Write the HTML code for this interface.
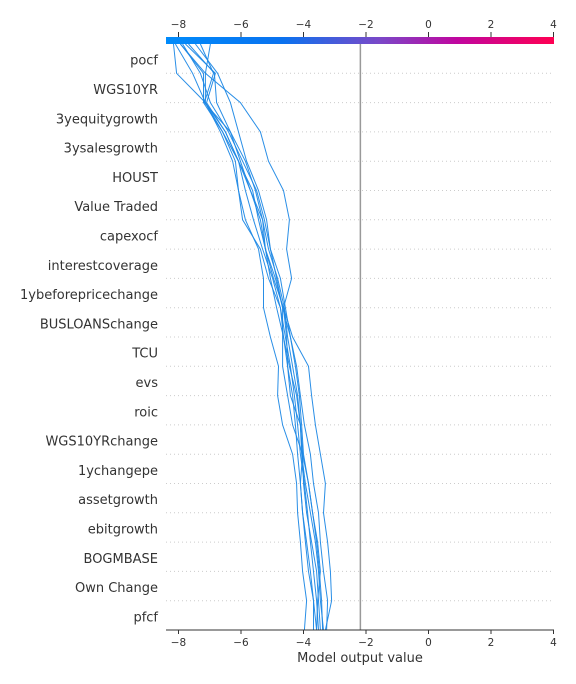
<!DOCTYPE html>
<html><head><meta charset="utf-8"><style>
body{margin:0;background:#fff;}
svg{display:block;font-family:"DejaVu Sans","Liberation Sans",sans-serif;}
</style></head><body>
<svg id="chart" width="576" height="684">
<defs><linearGradient id="cb" x1="0" x2="1" y1="0" y2="0">
<stop offset="0" stop-color="#008bfb"/><stop offset="0.3" stop-color="#0a72ef"/><stop offset="0.55" stop-color="#7a48c8"/><stop offset="0.75" stop-color="#c0069f"/><stop offset="1" stop-color="#ff0052"/></linearGradient></defs>
<g id="grid"></g><g id="lines"></g><g id="axes"></g>
</svg>
<script>
const features=["pocf","WGS10YR","3yequitygrowth","3ysalesgrowth","HOUST","Value Traded","capexocf","interestcoverage","1ybeforepricechange","BUSLOANSchange","TCU","evs","roic","WGS10YRchange","1ychangepe","assetgrowth","ebitgrowth","BOGMBASE","Own Change","pfcf"];
const xTicks=[-8,-6,-4,-2,0,2,4];
const baseValue=-2.18;
const series1=[-7.94,-7.14,-6.02,-5.38,-5.12,-4.64,-4.45,-4.54,-4.38,-4.64,-4.35,-3.84,-3.74,-3.62,-3.46,-3.30,-3.36,-3.23,-3.14,-3.10,-3.30];
const series2=[-8.16,-8.06,-7.14,-6.66,-6.27,-6.08,-5.86,-5.44,-5.28,-5.28,-5.06,-4.80,-4.83,-4.67,-4.35,-4.22,-4.19,-4.10,-4.03,-3.90,-3.97];
const series3=[-7.94,-7.20,-7.20,-6.59,-6.18,-6.08,-5.95,-5.38,-5.12,-4.74,-4.64,-4.51,-4.35,-4.26,-4.19,-4.10,-4.03,-3.90,-3.78,-3.68,-3.58];
const series4=[-7.78,-6.82,-7.10,-6.50,-6.08,-5.86,-5.60,-5.31,-4.99,-4.74,-4.58,-4.42,-4.29,-4.19,-4.10,-3.97,-3.87,-3.78,-3.68,-3.58,-3.52];
const series5=[-7.68,-6.85,-6.78,-6.34,-5.86,-5.54,-5.31,-5.12,-4.83,-4.61,-4.51,-4.35,-4.19,-4.10,-4.03,-4.00,-3.90,-3.74,-3.58,-3.52,-3.46];
const series6=[-7.46,-6.75,-6.34,-6.08,-5.82,-5.44,-5.18,-5.06,-4.74,-4.58,-4.42,-4.26,-4.13,-4.06,-4.00,-3.84,-3.71,-3.58,-3.49,-3.42,-3.39];
const series7=[-7.30,-6.88,-7.17,-6.34,-6.02,-5.70,-5.31,-5.22,-4.90,-4.67,-4.67,-4.67,-4.51,-4.35,-4.03,-3.84,-3.71,-3.55,-3.46,-3.55,-3.58];
const series8=[-6.98,-7.14,-7.14,-6.50,-6.08,-5.63,-5.44,-5.22,-4.96,-4.64,-4.54,-4.51,-4.42,-4.10,-4.03,-4.10,-4.03,-3.94,-3.84,-3.68,-3.68];
const series9=[-8.10,-7.55,-7.14,-6.59,-6.08,-5.70,-5.38,-5.22,-5.06,-4.86,-4.64,-4.45,-4.22,-4.10,-4.06,-3.94,-3.78,-3.62,-3.52,-3.46,-3.36];
const series10=[-7.87,-7.30,-6.98,-6.40,-5.95,-5.50,-5.25,-5.06,-4.86,-4.67,-4.42,-4.22,-4.10,-3.97,-3.78,-3.68,-3.52,-3.46,-3.36,-3.23,-3.26];
const allSeries=[series1,series2,series3,series4,series5,series6,series7,series8,series9,series10];

const NS="http://www.w3.org/2000/svg";
const X0=166,X1=554,VMIN=-8.4,VMAX=4.016;
const yTop=44,yBot=630;
const xs=v=>X0+(v-VMIN)/(VMAX-VMIN)*(X1-X0);
const step=(yBot-yTop)/features.length;
const yb=k=>yTop+k*step;
function mk(tag,attrs,parent,text){const e=document.createElementNS(NS,tag);for(const k in attrs)e.setAttribute(k,attrs[k]);if(text!==undefined)e.textContent=text;parent.appendChild(e);return e;}
const grid=document.getElementById('grid'),lines=document.getElementById('lines'),axes=document.getElementById('axes');

features.forEach((f,i)=>{
  const y=yb(i)+step/2;
  const g=mk('line',{x1:X0,x2:X1,y1:yb(i+1),y2:yb(i+1),stroke:'#ccc','stroke-dasharray':'1,3','stroke-width':1},grid);
  
  
  const t=mk('text',{x:158,y:y+6,'text-anchor':'end','font-size':13,fill:'#333'},axes,f);
  
  
});
const bl=mk('line',{x1:xs(baseValue),x2:xs(baseValue),y1:40,y2:yBot,stroke:'#999','stroke-width':1.5},grid);



allSeries.forEach((s,i)=>{
  const pts=s.map((v,k)=>xs(v).toFixed(1)+','+yb(k).toFixed(1)).join(' ');
  const p=mk('polyline',{points:pts,fill:'none',stroke:'#1e88e5','stroke-width':1,opacity:0.95},lines);
  
  
});

const cb=mk('rect',{x:X0,y:37,width:X1-X0,height:7,fill:'url(#cb)'},axes);


const ax=mk('line',{x1:X0,x2:X1,y1:yBot,y2:yBot,stroke:'#333','stroke-width':1},axes);


xTicks.forEach(v=>{
  const x=xs(v);
  mk('line',{x1:x,x2:x,y1:yBot,y2:yBot+4,stroke:'#333'},axes);
  const t=mk('text',{x:x,y:yBot+16,'text-anchor':'middle','font-size':10.5,fill:'#333'},axes,v<0?'\u2212'+(-v):String(v));
  
  
  mk('line',{x1:x,x2:x,y1:32,y2:37,stroke:'#333'},axes);
  const t2=mk('text',{x:x,y:28,'text-anchor':'middle','font-size':10.5,fill:'#333'},axes,v<0?'\u2212'+(-v):String(v));
  
  
});
const title=mk('text',{x:(X0+X1)/2,y:662,'text-anchor':'middle','font-size':13,fill:'#333'},axes,'Model output value');


</script>
</body></html>
